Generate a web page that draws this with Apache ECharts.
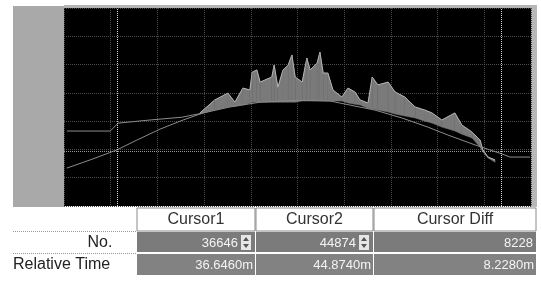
<!DOCTYPE html>
<html>
<head>
<meta charset="utf-8">
<script src="https://cdn.jsdelivr.net/npm/echarts@6/dist/echarts.min.js"></script>
<style>
  html, body { margin: 0; padding: 0; background: #fff; }
  #chart { width: 541px; height: 291px; }
</style>
</head>
<body>
<div id="chart"></div>
<script>
// time in ms, level in screen divisions
var arcTime = [35.56, 36.06, 36.63, 37.06, 37.56, 38.05, 38.48, 39.05, 39.70, 40.55, 41.20, 41.62, 42.16, 42.74, 43.29, 43.72, 44.30, 44.88, 45.05, 45.48]
var arcLevel = [1.34, 1.63, 1.98, 2.33, 2.72, 3.04, 3.29, 3.50, 3.67, 3.74, 3.71, 3.57, 3.39, 3.11, 2.79, 2.51, 2.16, 1.84, 1.73, 1.73]

var holdTime = [35.56, 36.49, 36.66, 37.34, 38.03, 38.48]
var holdLevel = [2.65, 2.65, 2.93, 3.04, 3.14, 3.29]

var noiseTime = [38.41, 38.73, 39.01, 39.16, 39.33, 39.48, 39.53, 39.63, 39.70, 39.95, 40.00, 40.08, 40.19, 40.30, 40.38, 40.45, 40.60, 40.70, 40.77, 40.92, 40.98, 41.05, 41.15, 41.26, 41.45, 41.58, 41.73, 41.84, 42.01, 42.10, 42.22, 42.44, 42.59, 42.80, 43.02, 43.23, 43.38, 43.59, 43.87, 44.02, 44.24, 44.41, 44.47, 44.58, 44.73]
var noiseHigh = [3.29, 3.75, 3.99, 3.67, 4.17, 4.10, 4.73, 4.81, 4.38, 4.56, 4.98, 4.20, 4.81, 4.98, 5.34, 4.56, 4.38, 5.23, 4.81, 5.05, 5.44, 4.70, 4.70, 4.10, 3.85, 4.17, 4.03, 3.75, 3.64, 4.56, 4.28, 4.38, 4.03, 3.85, 3.50, 3.39, 3.29, 3.04, 3.29, 2.86, 2.61, 2.33, 1.98, 1.73, 1.63]
var noiseLow = [3.25, 3.39, 3.50, 3.53, 3.57, 3.64, 3.67, 3.67, 3.67, 3.67, 3.67, 3.67, 3.67, 3.67, 3.67, 3.67, 3.71, 3.71, 3.71, 3.71, 3.71, 3.71, 3.71, 3.71, 3.71, 3.64, 3.60, 3.57, 3.46, 3.43, 3.39, 3.32, 3.25, 3.18, 3.11, 3.00, 2.93, 2.79, 2.65, 2.54, 2.40, 2.08, 1.91, 1.70, 1.55]

var levelLine = 1.93

var cursorNames = ['Cursor1', 'Cursor2', 'Cursor Diff']
var cursorNo = ['36646', '44874', '8228']
var cursorTime = ['36.6460m', '44.8740m', '8.2280m']
var cursorMs = [36.646, 44.874]
var rowNames = ['No.', 'Relative Time']

function pairs (xs, ys) {
  return xs.map(function (x, i) { return [x, ys[i]] })
}

var font = '"Liberation Sans", Arial, sans-serif'
var colX = [137, 256, 374]
var colW = [118, 117, 162]
var graphics = [
  // left channel panel
  { type: 'rect', shape: { x: 13, y: 6, width: 51, height: 201 }, style: { fill: '#a9a9a9' } },
  { type: 'rect', shape: { x: 64, y: 5, width: 473, height: 3 }, style: { fill: '#b4b4b4' } },
  { type: 'rect', shape: { x: 531, y: 5, width: 6, height: 202 }, style: { fill: '#b8b8b8' } }
]
cursorNames.forEach(function (name, i) {
  graphics.push({ type: 'rect', shape: { x: colX[i], y: 208, width: colW[i], height: 23 }, style: { fill: '#fff', stroke: '#8a8a8a', lineWidth: 1 } })
  graphics.push({ type: 'text', x: colX[i] + colW[i] / 2, y: 220, style: { text: name, font: '16px ' + font, fill: '#333', align: 'center', verticalAlign: 'middle' } })
  var right = colX[i] + colW[i] - 3
  var numRight = i < 2 ? right - 14 : right
  graphics.push({ type: 'rect', shape: { x: colX[i], y: 232, width: colW[i], height: 20 }, style: { fill: '#7b7b7b' } })
  graphics.push({ type: 'rect', shape: { x: colX[i], y: 254, width: colW[i], height: 21 }, style: { fill: '#828282' } })
  graphics.push({ type: 'text', x: numRight, y: 243, style: { text: cursorNo[i], font: '13px ' + font, fill: '#f4f4f4', align: 'right', verticalAlign: 'middle' } })
  graphics.push({ type: 'text', x: right + 1, y: 265, style: { text: cursorTime[i], font: '13px ' + font, fill: '#f4f4f4', align: 'right', verticalAlign: 'middle' } })
  if (i < 2) {
    var sx = right - 11
    graphics.push({ type: 'rect', shape: { x: sx, y: 235, width: 10, height: 15 }, style: { fill: '#e6e6e6' } })
    graphics.push({ type: 'polygon', shape: { points: [[sx + 2, 241], [sx + 8, 241], [sx + 5, 237]] }, style: { fill: '#555' } })
    graphics.push({ type: 'polygon', shape: { points: [[sx + 2, 244], [sx + 8, 244], [sx + 5, 248]] }, style: { fill: '#555' } })
  }
})
graphics.push({ type: 'line', shape: { x1: 13, y1: 231.5, x2: 137, y2: 231.5 }, style: { stroke: '#999', lineDash: [1, 1] } })
graphics.push({ type: 'line', shape: { x1: 13, y1: 253.5, x2: 137, y2: 253.5 }, style: { stroke: '#999', lineDash: [1, 1] } })
graphics.push({ type: 'text', x: 100, y: 243, style: { text: rowNames[0], font: '16px ' + font, fill: '#222', align: 'center', verticalAlign: 'middle' } })
graphics.push({ type: 'text', x: 13, y: 265, style: { text: rowNames[1], font: '16px ' + font, fill: '#222', align: 'left', verticalAlign: 'middle' } })

// noise band: one quad per step between consecutive samples
function renderBand (params, api) {
  var i = params.dataIndex
  if (i >= noiseTime.length - 1) return null
  var pts = [
    api.coord([noiseTime[i], noiseHigh[i]]),
    api.coord([noiseTime[i + 1], noiseHigh[i + 1]]),
    api.coord([noiseTime[i + 1], noiseLow[i + 1]]),
    api.coord([noiseTime[i], noiseLow[i]])
  ]
  return {
    type: 'group',
    children: [
      { type: 'polygon', shape: { points: pts }, style: { fill: '#7a7a7a', stroke: '#7a7a7a', lineWidth: 0.5 } },
      { type: 'line', shape: { x1: pts[0][0], y1: pts[0][1], x2: pts[1][0], y2: pts[1][1] }, style: { stroke: '#b4b4b4', lineWidth: 1 } }
    ]
  }
}

var traceStyle = { color: '#8c8c8c', width: 1 }
var options = {
  animation: false,
  backgroundColor: '#fff',
  grid: {
    show: true,
    left: 64,
    top: 8,
    width: 467,
    height: 198,
    backgroundColor: '#000',
    borderWidth: 0
  },
  xAxis: {
    type: 'value',
    min: 35.5,
    max: 45.5,
    interval: 1,
    axisLine: { show: false },
    axisTick: { show: false },
    axisLabel: { show: false },
    splitLine: { lineStyle: { type: 'dotted', color: '#4c4c4c' } }
  },
  yAxis: {
    type: 'value',
    min: 0,
    max: 7,
    interval: 1,
    axisLine: { show: false },
    axisTick: { show: false },
    axisLabel: { show: false },
    splitLine: { lineStyle: { type: 'dotted', color: '#4c4c4c' } }
  },
  series: [
    {
      name: 'arc',
      type: 'line',
      symbol: 'none',
      lineStyle: traceStyle,
      data: pairs(arcTime, arcLevel),
      markLine: {
        symbol: 'none',
        silent: true,
        label: { show: false },
        data: [
          { xAxis: cursorMs[0], lineStyle: { type: 'dotted', color: '#d8d8d8', width: 1 } },
          { xAxis: cursorMs[1], lineStyle: { type: 'dotted', color: '#d8d8d8', width: 1 } },
          { yAxis: levelLine, lineStyle: { type: 'dotted', color: '#9a9a9a', width: 1 } }
        ]
      }
    },
    {
      name: 'hold',
      type: 'line',
      symbol: 'none',
      lineStyle: traceStyle,
      data: pairs(holdTime, holdLevel)
    },
    {
      name: 'noise',
      type: 'custom',
      renderItem: renderBand,
      encode: { x: 0, y: 1 },
      data: noiseTime.map(function (t, i) { return [t, noiseHigh[i], noiseLow[i]] }),
      z: 3
    }
  ],
  graphic: graphics
}

var myChart = echarts.init(document.getElementById('chart'))
myChart.setOption(options)
</script>
</body>
</html>
